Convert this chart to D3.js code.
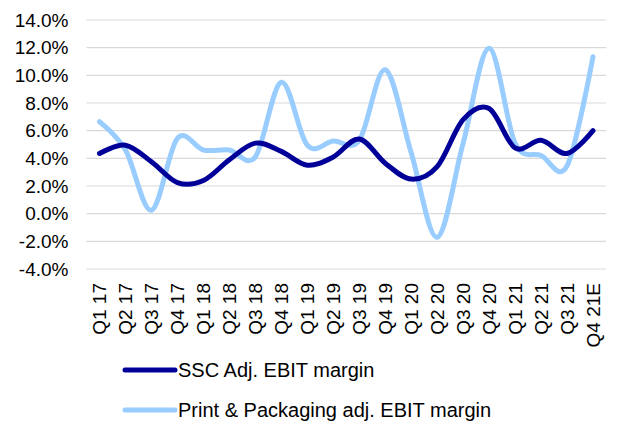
<!DOCTYPE html>
<html>
<head>
<meta charset="utf-8">
<script src="https://cdn.jsdelivr.net/npm/d3@7"></script>
<style>
  html, body { margin: 0; padding: 0; background: #ffffff; }
  svg { display: block; font-family: "Liberation Sans", Arial, sans-serif; }
</style>
</head>
<body>
<svg id="chart" width="618" height="426"></svg>
<script>
// Quarterly labels
const quarters = ["Q1 17","Q2 17","Q3 17","Q4 17","Q1 18","Q2 18","Q3 18","Q4 18",
                  "Q1 19","Q2 19","Q3 19","Q4 19","Q1 20","Q2 20","Q3 20","Q4 20",
                  "Q1 21","Q2 21","Q3 21","Q4 21E"];

// Adjusted EBIT margins, %
const sscMargin = [4.35, 4.95, 3.75, 2.25, 2.4, 3.9, 5.1, 4.5, 3.5, 4.1, 5.4, 3.65,
                   2.5, 3.4, 6.8, 7.6, 4.75, 5.3, 4.35, 6.0];
const ppMargin  = [6.65, 4.6, 0.25, 5.45, 4.6, 4.6, 4.1, 9.5, 4.95, 5.25, 5.3, 10.4,
                   4.4, -1.7, 5.1, 11.95, 5.1, 4.2, 3.45, 11.35];

// Axis ticks, %
const yTicks = [-4, -2, 0, 2, 4, 6, 8, 10, 12, 14];

const seriesNames  = ["SSC Adj. EBIT margin", "Print & Packaging adj. EBIT margin"];
const seriesColors = ["#000099", "#99ccff"];

const fontSize = 19;
const legendFontSize = 20;
const svg = d3.select("#chart");
const plot = { left: 86.5, right: 606, top: 20, bottom: 269 };

const x = d3.scaleBand().domain(quarters).range([plot.left, plot.right]).padding(0);
const y = d3.scaleLinear().domain([-4, 14]).range([plot.bottom, plot.top]);
const cx = q => x(q) + x.bandwidth() / 2;

// Horizontal gridlines
svg.append("g")
  .selectAll("line")
  .data(yTicks)
  .join("line")
  .attr("x1", plot.left)
  .attr("x2", plot.right)
  .attr("y1", d => y(d))
  .attr("y2", d => y(d))
  .attr("stroke", "#d9d9d9")
  .attr("stroke-width", 1.2);

// Y axis labels
const yAxis = svg.append("g")
  .attr("transform", `translate(${plot.left},0)`)
  .call(d3.axisLeft(y).tickValues(yTicks).tickSize(0).tickPadding(18)
    .tickFormat(d => d.toFixed(1) + "%"));
yAxis.select(".domain").remove();
yAxis.selectAll("text")
  .attr("font-size", fontSize)
  .attr("fill", "#000")
  .attr("font-family", "Liberation Sans, Arial, sans-serif");

// X axis labels, rotated
const xAxis = svg.append("g")
  .attr("transform", `translate(0,${plot.bottom})`)
  .call(d3.axisBottom(x).tickSize(0).tickPadding(0));
xAxis.select(".domain").remove();
xAxis.selectAll("text")
  .attr("font-size", fontSize)
  .attr("fill", "#000")
  .attr("font-family", "Liberation Sans, Arial, sans-serif")
  .attr("text-anchor", "end")
  .attr("transform", "translate(0,14) rotate(-90)")
  .attr("x", 0)
  .attr("y", 0)
  .attr("dy", "0.35em");

// Smoothed lines
const line = d3.line()
  .x((d, i) => cx(quarters[i]))
  .y(d => y(d))
  .curve(d3.curveCatmullRom.alpha(0));

[ppMargin, sscMargin].forEach((vals, k) => {
  const colorIdx = k === 0 ? 1 : 0;
  svg.append("path")
    .datum(vals)
    .attr("d", line)
    .attr("fill", "none")
    .attr("stroke", seriesColors[colorIdx])
    .attr("stroke-width", 5)
    .attr("stroke-linecap", "round")
    .attr("stroke-linejoin", "round");
});

// Legend
const legend = svg.append("g");
seriesNames.forEach((name, i) => {
  const ly = 370 + i * 40;
  legend.append("line")
    .attr("x1", 125).attr("x2", 175)
    .attr("y1", ly).attr("y2", ly)
    .attr("stroke", seriesColors[i])
    .attr("stroke-width", 5)
    .attr("stroke-linecap", "round");
  legend.append("text")
    .attr("x", 178)
    .attr("y", ly)
    .attr("dy", "0.35em")
    .attr("font-size", legendFontSize)
    .attr("fill", "#000")
    .text(name);
});
</script>
</body>
</html>
